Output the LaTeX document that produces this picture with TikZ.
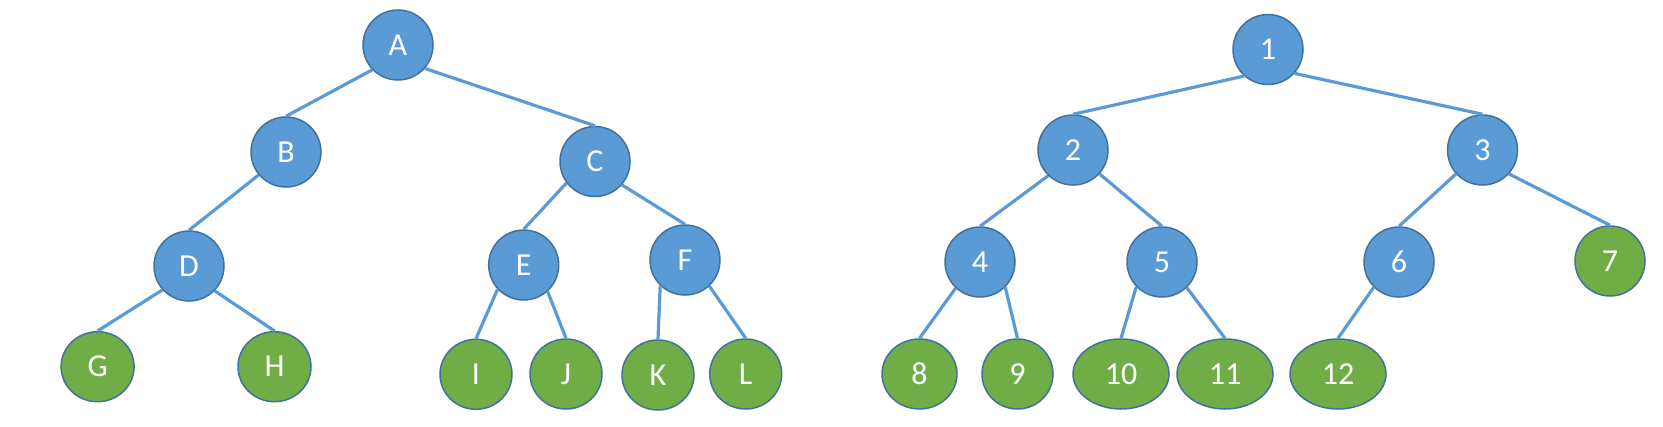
\documentclass[tikz,border=0pt]{standalone}
\usepackage{fontspec}
\setmainfont{Carlito}
\usetikzlibrary{shapes.geometric}
\definecolor{nodeblue}{HTML}{5B9BD5}
\definecolor{nodegreen}{HTML}{70AD47}
\definecolor{rim}{HTML}{41719C}
\definecolor{edgeblue}{HTML}{5B9BD5}
\begin{document}
\begin{tikzpicture}[x=1pt,y=-1pt,
  inner/.style={ellipse, draw=rim, line width=1.5pt, fill=nodeblue, text=white,
    minimum width=70pt, minimum height=70pt, inner sep=0pt,
    font=\fontsize{32}{34}\selectfont},
  leaf/.style={inner, fill=nodegreen, minimum width=72pt},
  wide/.style={leaf, minimum width=96pt},
  link/.style={draw=edgeblue, line width=3.2pt}]
\useasboundingbox (0,0) rectangle (1663,426);
% left tree
\node[inner] (A) at (398,45) {A};
\node[inner] (B) at (286,152) {B};
\node[inner] (C) at (595,161.5) {C};
\node[inner] (D) at (189,266) {D};
\node[inner] (E) at (523.7,265) {E};
\node[inner] (F) at (685,260) {F};
\node[leaf, minimum width=73pt] (G) at (97.6,366.7) {G};
\node[leaf, minimum width=73pt] (H) at (274.5,366.7) {H};
\node[leaf] (I) at (476,374.3) {I};
\node[leaf] (J) at (566,374) {J};
\node[leaf] (K) at (658,375) {K};
\node[leaf] (L) at (745.7,374) {L};
% right tree
\node[inner] (n1) at (1268,49.5) {1};
\node[inner] (n2) at (1073,150) {2};
\node[inner] (n3) at (1482.5,150) {3};
\node[inner] (n4) at (980,262) {4};
\node[inner] (n5) at (1162,262) {5};
\node[inner] (n6) at (1399,262) {6};
\node[leaf, minimum width=70pt] (n7) at (1610,261) {7};
\node[leaf, minimum width=75pt] (n8) at (919.5,374) {8};
\node[leaf, minimum width=71pt] (n9) at (1017.5,374) {9};
\node[wide] (n10) at (1121,374) {10};
\node[wide] (n11) at (1225,374) {11};
\node[wide] (n12) at (1338,374) {12};
% connectors
\draw[link] (A.224) -- (B.north);
\draw[link] (A.-41) -- (C.north);
\draw[link] (B.220) -- (D.north);
\draw[link] (C.217) -- (E.north);
\draw[link] (C.-41) -- (F.north);
\draw[link] (D.222) -- (G.north);
\draw[link] (D.-44) -- (H.north);
\draw[link] (E.223) -- (I.north);
\draw[link] (E.-48) -- (J.north);
\draw[link] (F.226) -- (K.north);
\draw[link] (F.-47) -- (L.north);
\draw[link] (n1.228) -- (n2.north);
\draw[link] (n1.-42) -- (n3.north);
\draw[link] (n2.226) -- (n4.north);
\draw[link] (n2.-42) -- (n5.north);
\draw[link] (n3.222) -- (n6.north);
\draw[link] (n3.-42) -- (n7.north);
\draw[link] (n4.227) -- (n8.north);
\draw[link] (n4.-45) -- (n9.north);
\draw[link] (n5.224) -- (n10.north);
\draw[link] (n5.-46) -- (n11.north);
\draw[link] (n6.225) -- (n12.north);
\end{tikzpicture}
\end{document}
